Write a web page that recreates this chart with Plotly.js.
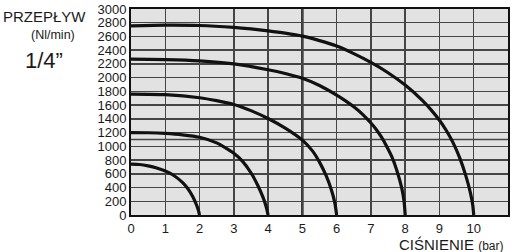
<!DOCTYPE html>
<html><head><meta charset="utf-8">
<script src="https://cdn.plot.ly/plotly-3.0.1.min.js"></script>
<style>html,body{margin:0;padding:0;background:#fff}#c{width:512px;height:252px}</style>
</head><body><div id="c"></div>
<script>
// Pressure (bar) / flow (Nl/min) curves
const p2x = [0, 0.25, 0.5, 0.75, 1, 1.25, 1.5, 1.65, 1.8, 1.9, 1.96, 2];
const p2y = [740, 735, 715, 685, 640, 575, 475, 390, 270, 160, 80, 0];
const p4x = [0, 0.5, 1, 1.5, 2, 2.5, 3, 3.25, 3.5, 3.7, 3.85, 3.95, 4];
const p4y = [1200, 1198, 1188, 1168, 1132, 1050, 900, 785, 615, 430, 260, 110, 0];
const p6x = [0, 1, 2, 2.5, 3, 3.5, 4, 4.5, 5, 5.3, 5.5, 5.7, 5.85, 5.95, 6];
const p6y = [1760, 1752, 1708, 1665, 1610, 1520, 1405, 1265, 1090, 930, 770, 565, 360, 170, 0];
const p8x = [0, 1, 2, 3, 4, 4.5, 5, 5.5, 6, 6.25, 6.5, 6.75, 7, 7.15, 7.3, 7.45, 7.6, 7.75, 7.9, 7.97, 8];
const p8y = [2270, 2264, 2245, 2200, 2115, 2060, 1990, 1885, 1745, 1665, 1575, 1470, 1340, 1250, 1140, 1010, 860, 660, 390, 190, 0];
const p10x = [0, 1, 2, 3, 3.5, 4, 4.5, 5, 5.5, 6, 6.5, 7, 7.5, 8, 8.5, 8.75, 9, 9.2, 9.4, 9.6, 9.77, 9.9, 9.97, 10];
const p10y = [2755, 2765, 2760, 2732, 2710, 2682, 2648, 2605, 2540, 2460, 2350, 2222, 2072, 1892, 1670, 1535, 1380, 1230, 1050, 820, 570, 330, 150, 0];

const xTicks = [0,1,2,3,4,5,6,7,8,9,10,11];
const yTicks = [0,200,400,600,800,1000,1200,1400,1600,1800,2000,2200,2400,2600,2800,3000];
const extraY = 1100;   // additional horizontal line
const boldX = 5;       // heavier vertical line

const series = [[p2x,p2y],[p4x,p4y],[p6x,p6y],[p8x,p8y],[p10x,p10y]];
const traces = series.map(s => ({
  x: s[0], y: s[1], type: 'scatter', mode: 'lines',
  line: {color: '#111', width: 3.2, shape: 'spline', smoothing: 0.6},
  hoverinfo: 'skip', showlegend: false
}));

const font = {family: 'Liberation Sans, Arial, sans-serif', color: '#1a1a1a'};
const layout = {
  width: 512, height: 252,
  margin: {l: 131, r: 4, t: 9, b: 37},
  paper_bgcolor: '#fff', plot_bgcolor: '#e2e2e2',
  showlegend: false,
  font: Object.assign({size: 13}, font),
  xaxis: {range: [0, 11], tickvals: xTicks, ticktext: xTicks.map(String),
    showgrid: true, gridcolor: '#454545', gridwidth: 1.5,
    showline: true, linecolor: '#111', linewidth: 2, mirror: true,
    ticks: '', tickfont: {size: 13}, zeroline: false, fixedrange: true},
  yaxis: {range: [0, 3000], tickvals: yTicks, ticktext: yTicks.map(String),
    showgrid: true, gridcolor: '#454545', gridwidth: 1.5,
    showline: true, linecolor: '#111', linewidth: 2, mirror: true,
    ticks: '', tickfont: {size: 13}, zeroline: false, fixedrange: true},
  shapes: [
    {type: 'line', xref: 'x', yref: 'paper', x0: boldX, x1: boldX, y0: 0, y1: 1,
     line: {color: '#1a1a1a', width: 2.4}, layer: 'below'},
    {type: 'line', xref: 'paper', yref: 'y', x0: 0, x1: 1, y0: extraY, y1: extraY,
     line: {color: '#454545', width: 1.5}, layer: 'below'}
  ],
  annotations: [
    {text: 'PRZEPŁYW', xref: 'paper', yref: 'paper', x: -0.345, y: 0.966,
     xanchor: 'left', yanchor: 'middle', showarrow: false, font: Object.assign({size: 15}, font)},
    {text: '(Nl/min)', xref: 'paper', yref: 'paper', x: -0.206, y: 0.874,
     xanchor: 'center', yanchor: 'middle', showarrow: false, font: Object.assign({size: 12.5}, font)},
    {text: '1/4”', xref: 'paper', yref: 'paper', x: -0.231, y: 0.748,
     xanchor: 'center', yanchor: 'middle', showarrow: false, font: Object.assign({size: 22}, font)},
    {text: 'CIŚNIENIE <span style="font-size:12px">(bar)</span>', xref: 'paper', yref: 'paper',
     x: 0.995, y: -0.141, xanchor: 'right', yanchor: 'middle', showarrow: false,
     font: Object.assign({size: 15}, font)}
  ]
};
Plotly.newPlot('c', traces, layout, {staticPlot: true, displayModeBar: false});
</script></body></html>
